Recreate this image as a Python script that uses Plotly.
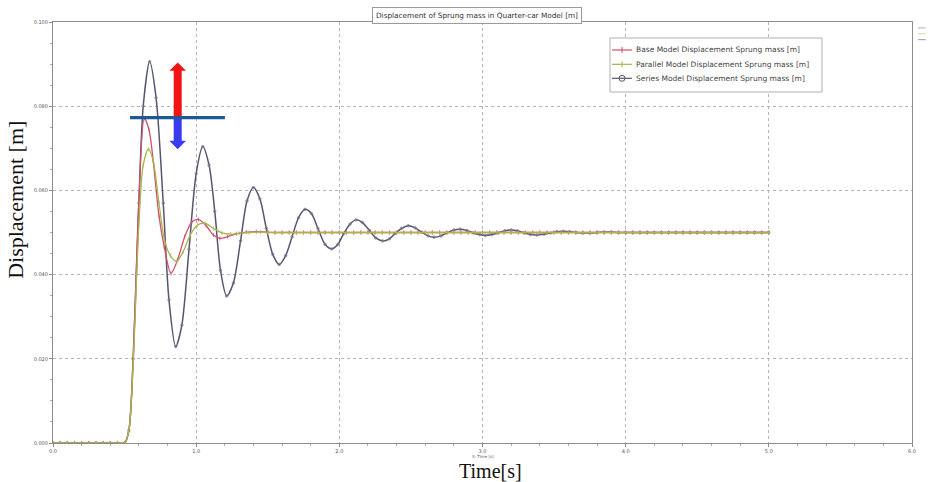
import plotly.graph_objects as go

# ---------------- data ----------------
t_series = [0.00, 0.05, 0.10, 0.15, 0.20, 0.25, 0.30, 0.35, 0.40, 0.45, 0.50,
            0.53, 0.56, 0.60, 0.63, 0.675, 0.72, 0.77, 0.81, 0.857, 0.90, 0.95,
            1.00, 1.046, 1.09, 1.13, 1.17, 1.213, 1.26, 1.31, 1.355, 1.40, 1.445,
            1.49, 1.535, 1.58, 1.625, 1.67, 1.715, 1.76, 1.805, 1.85, 1.90, 1.947,
            1.99, 2.03, 2.075, 2.116, 2.16, 2.21, 2.255, 2.303, 2.35, 2.39, 2.435,
            2.482, 2.53, 2.575, 2.62, 2.661, 2.71, 2.75, 2.80, 2.843, 2.89, 2.935,
            2.98, 3.02, 3.065, 3.11, 3.155, 3.20, 3.245, 3.29, 3.335, 3.38, 3.43,
            3.475, 3.52, 3.565, 3.61, 3.655, 3.70, 3.75, 3.80, 3.85, 3.90, 3.95,
            4.00, 4.05, 4.10, 4.15, 4.20, 4.25, 4.30, 4.35, 4.40, 4.45, 4.50, 4.55,
            4.60, 4.65, 4.70, 4.75, 4.80, 4.85, 4.90, 4.95, 5.00]
y_series = [0.0, 0.0, 0.0, 0.0, 0.0, 0.0, 0.0, 0.0, 0.0, 0.0, 0.0,
            0.003, 0.020, 0.057, 0.080, 0.0906, 0.082, 0.057, 0.034, 0.0229, 0.028, 0.046,
            0.064, 0.0704, 0.066, 0.055, 0.041, 0.0349, 0.038, 0.048, 0.0575, 0.0607, 0.058,
            0.051, 0.0448, 0.0424, 0.0445, 0.049, 0.0535, 0.0555, 0.0545, 0.051, 0.0472, 0.0461,
            0.0472, 0.0497, 0.0520, 0.0530, 0.0524, 0.0505, 0.0487, 0.0480, 0.0485, 0.0498, 0.0510,
            0.0516, 0.0511, 0.0501, 0.0492, 0.0489, 0.0492, 0.0499, 0.0506, 0.0508, 0.0505, 0.0499,
            0.0495, 0.0493, 0.0495, 0.0499, 0.0504, 0.0506, 0.0504, 0.0499, 0.0495, 0.0494, 0.0496,
            0.0499, 0.0502, 0.0503, 0.0502, 0.0500, 0.0499, 0.0499, 0.0500, 0.0501, 0.0501, 0.0500,
            0.0500, 0.0500, 0.0500, 0.0500, 0.0500, 0.0500, 0.0500, 0.0500, 0.0500, 0.0500, 0.0500, 0.0500,
            0.0500, 0.0500, 0.0500, 0.0500, 0.0500, 0.0500, 0.0500, 0.0500, 0.0500]

t_base = [0.00, 0.05, 0.10, 0.15, 0.20, 0.25, 0.30, 0.35, 0.40, 0.45, 0.50,
          0.53, 0.56, 0.60, 0.638, 0.67, 0.70, 0.74, 0.777, 0.824, 0.87, 0.92,
          0.97, 1.015, 1.07, 1.12, 1.166, 1.22, 1.28, 1.35, 1.42, 1.50, 1.55,
          1.60, 1.65, 1.70, 1.75, 1.80, 1.85, 1.90, 1.95, 2.00, 2.05, 2.10, 2.15,
          2.20, 2.25, 2.30, 2.35, 2.40, 2.45, 2.50, 2.55, 2.60, 2.65, 2.70, 2.75,
          2.80, 2.85, 2.90, 2.95, 3.00, 3.05, 3.10, 3.15, 3.20, 3.25, 3.30, 3.35,
          3.40, 3.45, 3.50, 3.55, 3.60, 3.65, 3.70, 3.75, 3.80, 3.85, 3.90, 3.95,
          4.00, 4.05, 4.10, 4.15, 4.20, 4.25, 4.30, 4.35, 4.40, 4.45, 4.50, 4.55,
          4.60, 4.65, 4.70, 4.75, 4.80, 4.85, 4.90, 4.95, 5.00]
y_base = [0.0, 0.0, 0.0, 0.0, 0.0, 0.0, 0.0, 0.0, 0.0, 0.0, 0.0,
          0.003, 0.020, 0.058, 0.0771, 0.0745, 0.067, 0.054, 0.0466, 0.0403, 0.0435, 0.0490,
          0.0525, 0.0531, 0.0516, 0.0494, 0.0486, 0.0490, 0.0497, 0.0501, 0.0502, 0.0501, 0.0500,
          0.0500, 0.0500, 0.0500, 0.0500, 0.0500, 0.0500, 0.0500, 0.0500, 0.0500, 0.0500, 0.0500, 0.0500,
          0.0500, 0.0500, 0.0500, 0.0500, 0.0500, 0.0500, 0.0500, 0.0500, 0.0500, 0.0500, 0.0500, 0.0500,
          0.0500, 0.0500, 0.0500, 0.0500, 0.0500, 0.0500, 0.0500, 0.0500, 0.0500, 0.0500, 0.0500, 0.0500,
          0.0500, 0.0500, 0.0500, 0.0500, 0.0500, 0.0500, 0.0500, 0.0500, 0.0500, 0.0500, 0.0500, 0.0500,
          0.0500, 0.0500, 0.0500, 0.0500, 0.0500, 0.0500, 0.0500, 0.0500, 0.0500, 0.0500, 0.0500, 0.0500,
          0.0500, 0.0500, 0.0500, 0.0500, 0.0500, 0.0500, 0.0500, 0.0500, 0.0500]

t_parallel = [0.00, 0.05, 0.10, 0.15, 0.20, 0.25, 0.30, 0.35, 0.40, 0.45, 0.50,
              0.53, 0.56, 0.60, 0.63, 0.666, 0.70, 0.74, 0.78, 0.82, 0.864, 0.91,
              0.96, 1.01, 1.062, 1.12, 1.18, 1.24, 1.30, 1.37, 1.45, 1.50, 1.55,
              1.60, 1.65, 1.70, 1.75, 1.80, 1.85, 1.90, 1.95, 2.00, 2.05, 2.10, 2.15,
              2.20, 2.25, 2.30, 2.35, 2.40, 2.45, 2.50, 2.55, 2.60, 2.65, 2.70, 2.75,
              2.80, 2.85, 2.90, 2.95, 3.00, 3.05, 3.10, 3.15, 3.20, 3.25, 3.30, 3.35,
              3.40, 3.45, 3.50, 3.55, 3.60, 3.65, 3.70, 3.75, 3.80, 3.85, 3.90, 3.95,
              4.00, 4.05, 4.10, 4.15, 4.20, 4.25, 4.30, 4.35, 4.40, 4.45, 4.50, 4.55,
              4.60, 4.65, 4.70, 4.75, 4.80, 4.85, 4.90, 4.95, 5.00]
y_parallel = [0.0, 0.0, 0.0, 0.0, 0.0, 0.0, 0.0, 0.0, 0.0, 0.0, 0.0,
              0.003, 0.019, 0.052, 0.066, 0.0698, 0.067, 0.057, 0.048, 0.0445, 0.0431, 0.0455,
              0.0495, 0.0518, 0.0522, 0.0510, 0.0499, 0.0496, 0.0498, 0.0500, 0.0501, 0.0500, 0.0500,
              0.0500, 0.0500, 0.0500, 0.0500, 0.0500, 0.0500, 0.0500, 0.0500, 0.0500, 0.0500, 0.0500, 0.0500,
              0.0500, 0.0500, 0.0500, 0.0500, 0.0500, 0.0500, 0.0500, 0.0500, 0.0500, 0.0500, 0.0500, 0.0500,
              0.0500, 0.0500, 0.0500, 0.0500, 0.0500, 0.0500, 0.0500, 0.0500, 0.0500, 0.0500, 0.0500, 0.0500,
              0.0500, 0.0500, 0.0500, 0.0500, 0.0500, 0.0500, 0.0500, 0.0500, 0.0500, 0.0500, 0.0500, 0.0500,
              0.0500, 0.0500, 0.0500, 0.0500, 0.0500, 0.0500, 0.0500, 0.0500, 0.0500, 0.0500, 0.0500, 0.0500,
              0.0500, 0.0500, 0.0500, 0.0500, 0.0500, 0.0500, 0.0500, 0.0500, 0.0500]

names = ["Base Model Displacement Sprung mass [m]",
         "Parallel Model Displacement Sprung mass [m]",
         "Series Model Displacement Sprung mass [m]"]
title_text = "Displacement of Sprung mass in Quarter-car Model [m]"
x_ticks = [0, 1, 2, 3, 4, 5, 6]
y_ticks = [0.0, 0.02, 0.04, 0.06, 0.08, 0.10]

# annotation marks (arrows / reference line) in data units
arrow_x = 0.871
ref_level = 0.0773

# ---------------- figure ----------------
C_BASE = "#d2506a"
C_PAR = "#a9b54e"
C_SER = "#55566e"
colors = [C_BASE, C_PAR, C_SER]

fig = go.Figure()
fig.add_trace(go.Scatter(x=t_series, y=y_series, name=names[2], mode="lines+markers", showlegend=False,
                         line=dict(color=C_SER, width=1.5, shape="spline", smoothing=0.8),
                         marker=dict(symbol="circle-open", size=2.5, color="#7a7b90", line=dict(width=0.8))))
fig.add_trace(go.Scatter(x=t_base, y=y_base, name=names[0], mode="lines+markers", showlegend=False,
                         line=dict(color=C_BASE, width=1.3, shape="spline", smoothing=0.8),
                         marker=dict(symbol="line-ns-open", size=3, color=C_BASE, line=dict(width=0.8, color=C_BASE))))
fig.add_trace(go.Scatter(x=t_parallel, y=y_parallel, name=names[1], mode="lines+markers", showlegend=False,
                         line=dict(color=C_PAR, width=1.3, shape="spline", smoothing=0.8),
                         marker=dict(symbol="line-ns-open", size=3, color=C_PAR, line=dict(width=0.8, color=C_PAR))))

xs = 0.028   # half shaft width (s)
xh = 0.058   # half head width (s)
red_path = (f"M {arrow_x-xs} {ref_level} L {arrow_x-xs} 0.0884 L {arrow_x-xh} 0.0884 "
            f"L {arrow_x} 0.0904 L {arrow_x+xh} 0.0884 L {arrow_x+xs} 0.0884 L {arrow_x+xs} {ref_level} Z")
blue_path = (f"M {arrow_x-xs} {ref_level} L {arrow_x-xs} 0.0718 L {arrow_x-xh} 0.0718 "
             f"L {arrow_x} 0.0698 L {arrow_x+xh} 0.0718 L {arrow_x+xs} 0.0718 L {arrow_x+xs} {ref_level} Z")
shapes = [
    dict(type="path", path=red_path, xref="x", yref="y", fillcolor="#f01414", line=dict(width=0)),
    dict(type="path", path=blue_path, xref="x", yref="y", fillcolor="#3a3cf2", line=dict(width=0)),
    dict(type="line", x0=0.538, x1=1.201, y0=ref_level, y1=ref_level, xref="x", yref="y",
         line=dict(color="#1e5a92", width=3.2)),
]
# tiny marks at the top right outside the frame
for yy, cc in [(0.986, "#d9a0a8"), (0.972, "#d8d890"), (0.958, "#9a9aa8")]:
    shapes.append(dict(type="line", xref="paper", yref="paper", x0=1.007, x1=1.016, y0=yy, y1=yy,
                       line=dict(color=cc, width=1)))

annotations = [
    dict(text=title_text, xref="paper", yref="paper", x=0.494, y=1.015, xanchor="center", yanchor="middle",
         showarrow=False, font=dict(family="DejaVu Sans", size=7.3, color="#333333"),
         bgcolor="white", bordercolor="#9a9a9a", borderwidth=1, borderpad=3),
    dict(text="Displacement [m]", xref="paper", yref="paper", x=-0.044, y=0.578, xanchor="center",
         yanchor="middle", textangle=-90, showarrow=False,
         font=dict(family="Liberation Serif", size=22, color="#111111")),
    dict(text="Time[s]", xref="paper", yref="paper", x=0.509, y=-0.0665, xanchor="center", yanchor="middle",
         showarrow=False, font=dict(family="Liberation Serif", size=20, color="#111111")),
    dict(text="X: Time [s]", xref="paper", yref="paper", x=0.5, y=-0.031, xanchor="center", yanchor="middle",
         showarrow=False, font=dict(family="DejaVu Sans", size=4, color="#555555")),
]

# hand-built legend box (compact, like the reference)
shapes.append(dict(type="rect", xref="paper", yref="paper", x0=0.6484, x1=0.8952, y0=0.8337, y1=0.9620,
                   fillcolor="white", line=dict(color="#b0b0b0", width=1), layer="above"))
leg_y = [0.9335, 0.8995, 0.8663]
for i in range(3):
    shapes.append(dict(type="line", xref="paper", yref="paper", x0=0.6508, x1=0.6740, y0=leg_y[i], y1=leg_y[i],
                       line=dict(color=colors[i], width=1.2), layer="above"))
    if i < 2:
        shapes.append(dict(type="line", xref="paper", yref="paper", xsizemode="pixel", ysizemode="pixel",
                           xanchor=0.6624, yanchor=leg_y[i], x0=0, x1=0, y0=-3, y1=3,
                           line=dict(color=colors[i], width=1), layer="above"))
    else:
        shapes.append(dict(type="circle", xref="paper", yref="paper", xsizemode="pixel", ysizemode="pixel",
                           xanchor=0.6624, yanchor=leg_y[i], x0=-3, x1=3, y0=-3, y1=3,
                           line=dict(color=colors[i], width=1), layer="above"))
    annotations.append(dict(text=names[i], xref="paper", yref="paper", x=0.6764, y=leg_y[i],
                            xanchor="left", yanchor="middle", showarrow=False,
                            font=dict(family="DejaVu Sans", size=7.5, color="#444444")))

tick_font = dict(family="DejaVu Sans", size=5, color="#555555")
fig.update_layout(
    width=933, height=482,
    margin=dict(l=53, r=21, t=22, b=39),
    paper_bgcolor="white", plot_bgcolor="white",
    showlegend=False,
    shapes=shapes,
    annotations=annotations,
    xaxis=dict(range=[0, 6], tickvals=x_ticks, tickformat=".1f", tickfont=tick_font,
               showgrid=True, gridcolor="#b4b4b4", griddash="dot", gridwidth=1,
               showline=True, linecolor="#8c8c8c", linewidth=1, mirror=True,
               ticks="outside", ticklen=3, tickcolor="#8c8c8c",
               minor=dict(dtick=0.2, ticks="outside", ticklen=2, tickcolor="#aaaaaa", showgrid=False),
               zeroline=False),
    yaxis=dict(range=[0, 0.1], tickvals=y_ticks, tickformat=".3f", tickfont=tick_font,
               showgrid=True, gridcolor="#b4b4b4", griddash="dot", gridwidth=1,
               showline=True, linecolor="#8c8c8c", linewidth=1, mirror=True,
               ticks="outside", ticklen=3, tickcolor="#8c8c8c",
               minor=dict(dtick=0.005, ticks="outside", ticklen=2, tickcolor="#aaaaaa", showgrid=False),
               zeroline=False),
)

fig.write_html("out.html")
